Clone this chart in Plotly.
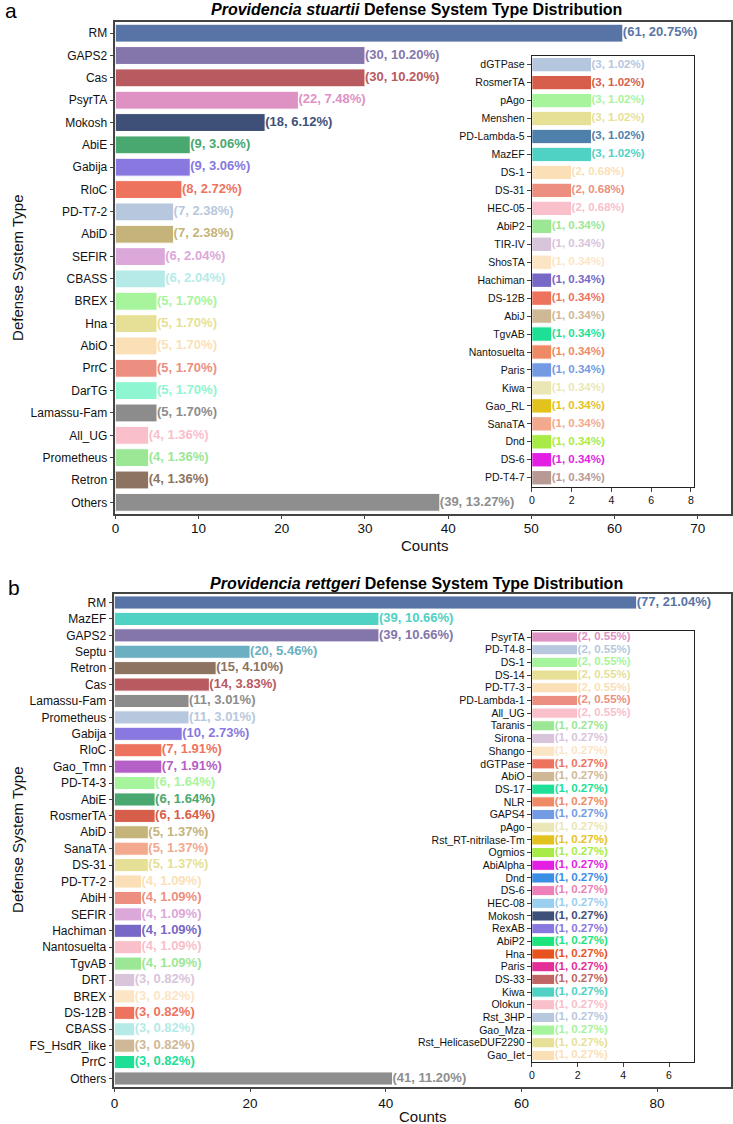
import plotly.graph_objects as go

# ---------------- Panel a data (Providencia stuartii) ----------------
a_main_cats = ["RM", "GAPS2", "Cas", "PsyrTA", "Mokosh", "AbiE", "Gabija", "RloC", "PD-T7-2", "AbiD",
               "SEFIR", "CBASS", "BREX", "Hna", "AbiO", "PrrC", "DarTG", "Lamassu-Fam", "All_UG",
               "Prometheus", "Retron", "Others"]
a_main_counts = [61, 30, 30, 22, 18, 9, 9, 8, 7, 7, 6, 6, 5, 5, 5, 5, 5, 5, 4, 4, 4, 39]
a_main_colors = ["#5874A6", "#8475AB", "#B85A5F", "#DE92C4", "#3F5078", "#49A86F", "#8878E0", "#EE735E",
                 "#B7C8DE", "#C4B47A", "#DCA8DA", "#B5EAE8", "#A6F59C", "#E6DF96", "#FBDFB7", "#EC8F80",
                 "#8EF6D0", "#8C8C8C", "#F9C0CB", "#9BE796", "#8C7461", "#8E8E8E"]

a_inset_cats = ["dGTPase", "RosmerTA", "pAgo", "Menshen", "PD-Lambda-5", "MazEF", "DS-1", "DS-31", "HEC-05",
                "AbiP2", "TIR-IV", "ShosTA", "Hachiman", "DS-12B", "AbiJ", "TgvAB", "Nantosuelta", "Paris",
                "Kiwa", "Gao_RL", "SanaTA", "Dnd", "DS-6", "PD-T4-7"]
a_inset_counts = [3, 3, 3, 3, 3, 3, 2, 2, 2, 1, 1, 1, 1, 1, 1, 1, 1, 1, 1, 1, 1, 1, 1, 1]
a_inset_colors = ["#B5C6DF", "#D65E4A", "#A6F59C", "#E6DF96", "#4F80AB", "#4FD1C4", "#FBDFB7", "#EC8F80",
                  "#F9C0CB", "#9BE796", "#D8C4DB", "#FCE5C5", "#7767C6", "#EE735E", "#CFB896", "#1DDF96",
                  "#EE8A66", "#739BE4", "#EBE6B6", "#E4C21E", "#F2A98D", "#A9EB46", "#E21FE3", "#B89A95"]

# ---------------- Panel b data (Providencia rettgeri) ----------------
b_main_cats = ["RM", "MazEF", "GAPS2", "Septu", "Retron", "Cas", "Lamassu-Fam", "Prometheus", "Gabija", "RloC",
               "Gao_Tmn", "PD-T4-3", "AbiE", "RosmerTA", "AbiD", "SanaTA", "DS-31", "PD-T7-2", "AbiH", "SEFIR",
               "Hachiman", "Nantosuelta", "TgvAB", "DRT", "BREX", "DS-12B", "CBASS", "FS_HsdR_like", "PrrC",
               "Others"]
b_main_counts = [77, 39, 39, 20, 15, 14, 11, 11, 10, 7, 7, 6, 6, 6, 5, 5, 5, 4, 4, 4, 4, 4, 4, 3, 3, 3, 3, 3, 3, 41]
b_main_colors = ["#5874A6", "#4FD1C4", "#8475AB", "#6AAFC2", "#8C7461", "#B85A5F", "#8C8C8C", "#B7C8DE",
                 "#8878E0", "#EE735E", "#B460C8", "#A6F59C", "#49A86F", "#D65E4A", "#C4B47A", "#F2A98D",
                 "#E6DF96", "#FBDFB7", "#EC8F80", "#DCA8DA", "#7767C6", "#F9C0CB", "#9BE796", "#D8C4DB",
                 "#FCE5C5", "#EE735E", "#B5EAE8", "#CFB896", "#1DDF96", "#8E8E8E"]

b_inset_cats = ["PsyrTA", "PD-T4-8", "DS-1", "DS-14", "PD-T7-3", "PD-Lambda-1", "All_UG", "Taranis", "Sirona",
                "Shango", "dGTPase", "AbiO", "DS-17", "NLR", "GAPS4", "pAgo", "Rst_RT-nitrilase-Tm", "Ogmios",
                "AbiAlpha", "Dnd", "DS-6", "HEC-08", "Mokosh", "RexAB", "AbiP2", "Hna", "Paris", "DS-33", "Kiwa",
                "Olokun", "Rst_3HP", "Gao_Mza", "Rst_HelicaseDUF2290", "Gao_Iet"]
b_inset_counts = [2, 2, 2, 2, 2, 2, 2] + [1] * 27
b_inset_colors = ["#DE92C4", "#B7C8DE", "#A6F59C", "#E6DF96", "#FBDFB7", "#EC8F80", "#F9C0CB", "#9BE796",
                  "#D8C4DB", "#FCE5C5", "#EE735E", "#CFB896", "#1DDF96", "#EE8A66", "#739BE4", "#EBE6B6",
                  "#E4C21E", "#A9EB46", "#E21FE3", "#3A8EE6", "#EE7FB8", "#9BCFF0", "#3F5078", "#8878E0",
                  "#1DE47D", "#E8541F", "#E32E98", "#C06464", "#4FD1C4", "#F9C0CB", "#B7C8DE", "#A6F59C",
                  "#E6DF96", "#FBDFB7"]

a_title = "<b><i>Providencia stuartii</i> Defense System Type Distribution</b>"
b_title = "<b><i>Providencia rettgeri</i> Defense System Type Distribution</b>"

W, H = 733, 1124
FONT = "Liberation Sans, Arial, Helvetica, sans-serif"


def px(x):
    return x / W


def py(y):
    return 1 - y / H


fig = go.Figure()


def add_panel(cats, counts, colors, total, xa, ya, label_size):
    fig.add_trace(go.Bar(
        x=counts, y=cats, orientation="h", width=0.8,
        marker=dict(color=colors, line=dict(color="white", width=1)),
        xaxis=xa, yaxis=ya, hoverinfo="skip", showlegend=False,
    ))
    texts = [f"({c}, {c / total * 100:.2f}%)" for c in counts]
    fig.add_trace(go.Scatter(
        x=counts, y=cats, mode="text", text=texts, textposition="middle right",
        textfont=dict(color=colors, size=label_size, family=FONT, weight="bold"),
        xaxis=xa, yaxis=ya, hoverinfo="skip", showlegend=False, cliponaxis=False,
    ))


a_total = sum(a_main_counts)
b_total = sum(b_main_counts)

add_panel(a_main_cats, a_main_counts, a_main_colors, a_total, "x", "y", 13)
add_panel(a_inset_cats, a_inset_counts, a_inset_colors, a_total, "x2", "y2", 11.5)
add_panel(b_main_cats, b_main_counts, b_main_colors, b_total, "x3", "y3", 13)
add_panel(b_inset_cats, b_inset_counts, b_inset_colors, b_total, "x4", "y4", 11.5)

main_line = dict(showline=True, mirror=True, linecolor="#444", linewidth=1.5,
                 ticks="outside", ticklen=4, tickwidth=1, tickcolor="#444",
                 showgrid=False, zeroline=False)
inset_line = dict(showline=True, mirror=True, linecolor="#222", linewidth=1,
                  ticks="outside", ticklen=4, tickwidth=1, tickcolor="#444",
                  showgrid=False, zeroline=False)


def yax(cats, dom, anchor, size, style):
    d = dict(domain=dom, anchor=anchor, type="category", categoryorder="array", categoryarray=cats,
             range=[len(cats) - 0.5, -0.5], autorange=False,
             tickmode="array", tickvals=cats, ticktext=cats,
             tickfont=dict(size=size, family=FONT, color="#111"))
    d.update(style)
    return d


def xax(dom, anchor, rng, dtick, size, style, standoff=0):
    d = dict(domain=dom, anchor=anchor, range=rng, autorange=False, dtick=dtick, tick0=0,
             ticklabelstandoff=standoff,
             tickfont=dict(size=size, family=FONT, color="#111"))
    d.update(style)
    return d


fig.update_layout(
    width=W, height=H, margin=dict(l=0, r=0, t=0, b=0),
    paper_bgcolor="white", plot_bgcolor="rgba(0,0,0,0)",
    font=dict(family=FONT, color="#111"),
    bargap=0.2,
    xaxis=xax([px(112), px(731)], "y", [0, 74], 10, 13.5, main_line, -2),
    yaxis=yax(a_main_cats, [py(513.5), py(22)], "x", 12, main_line),
    xaxis2=xax([px(530.7), px(693.3)], "y2", [0, 8.13], 2, 10.5, inset_line),
    yaxis2=yax(a_inset_cats, [py(486.7), py(55.7)], "x2", 10.5, inset_line),
    xaxis3=xax([px(111), px(731)], "y3", [0, 90.9], 20, 13.5, main_line, -1),
    yaxis3=yax(b_main_cats, [py(1086.7), py(594.3)], "x3", 12, main_line),
    xaxis4=xax([px(530.7), px(693.3)], "y4", [0, 7.07], 2, 10.5, inset_line),
    yaxis4=yax(b_inset_cats, [py(1061.8), py(630.7)], "x4", 10.5, inset_line),
)

ann = []
for title, y in [(a_title, 9), (b_title, 583)]:
    ann.append(dict(text=title, x=px(415), y=py(y), xref="paper", yref="paper", showarrow=False,
                    xanchor="center", yanchor="middle", font=dict(size=16, family=FONT, color="#000")))
for y in [268, 840]:
    ann.append(dict(text="Defense System Type", x=px(13), y=py(y), xref="paper", yref="paper",
                    showarrow=False, textangle=-90, xanchor="center", yanchor="middle",
                    font=dict(size=15, family=FONT, color="#111")))
for y, x in [(545, 423), (1116, 421)]:
    ann.append(dict(text="Counts", x=px(x), y=py(y), xref="paper", yref="paper", showarrow=False,
                    xanchor="center", yanchor="middle", font=dict(size=15, family=FONT, color="#111")))
for t, x, y in [("a", 7, 10), ("b", 10, 587)]:
    ann.append(dict(text=t, x=px(x), y=py(y), xref="paper", yref="paper", showarrow=False,
                    xanchor="center", yanchor="middle", font=dict(size=21, family=FONT, color="#000")))
fig.update_layout(annotations=ann)

fig.write_html("out.html")
